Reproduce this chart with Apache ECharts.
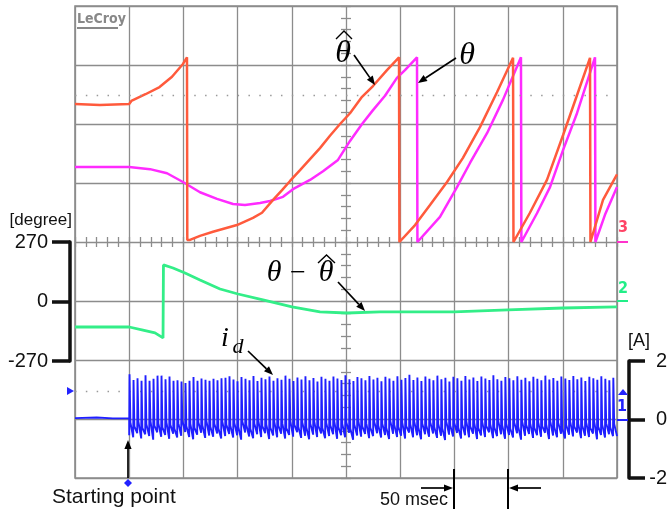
<!DOCTYPE html>
<html><head><meta charset="utf-8">
<script src="https://cdn.jsdelivr.net/npm/echarts@6/dist/echarts.min.js"></script>
<style>html,body{margin:0;padding:0;background:#fff}#c{width:668px;height:516px}</style>
</head><body><div id="c"></div>
<script>
// ---- data (time in msec, angles in degree, current in A) ----
const degreeTicks = [-270, 0, 270];
const ampTicks = [-2, 0, 2];

// estimated rotor angle (theta-hat), channel 3
const thetaHat = [[0,269],[23,267],[50,269],[52,275],[65,288],[78,302],[89.5,322],[99.6,347],[103.3,360],[103.6,4],
 [106.1,4],[115.3,12],[127.3,20],[149.4,33],[164.2,47],[172.5,57],[182.7,82],[191,101],[198.4,119],[207.6,140],[226,183],[235.2,207],[244.5,230],[253.7,251],[264.8,283],[274.9,304],[287.8,335],[298.9,360],[299.3,0],
 [313.7,33],[327.5,72],[343.2,117],[357.9,164],[373.6,224],[389.3,292],[404.1,359],[404.5,0],
 [419.7,57],[435.4,121],[450.2,208],[463.1,286],[475.1,359],[475.5,0],
 [487.1,82],[500,132]];

// real rotor angle (theta), channel 3
const theta = [[0,146],[50,146],[69.2,142],[84.9,134],[99.6,117],[115.3,97],[131,84],[145.8,74],[156.8,72],[170.7,76],[179.9,80],[191.9,88],[201.1,103],[216.8,121],[228.8,138],[242.6,160],[253.7,197],[264.8,230],[274.9,257],[286,285],[297,320],[304.4,335],[315.5,360],[315.9,0],
 [336.7,49],[352.4,107],[364.4,154],[380.1,212],[394.8,277],[411.4,360],[411.8,0],
 [426.2,56],[438.2,107],[450.2,179],[463.1,251],[479.7,360],[480.1,0],
 [488.9,53],[500,107]];

// angle error (theta - theta-hat), channel 2
const thetaErr = [[0,-119],[50,-119],[62.7,-133],[73.8,-146],[81.2,-169],[81.6,165],[90.4,151],[101.5,128],[115.3,96],[133.8,55],[150.4,32],[173.4,5],[200.2,-27],[226,-50],[250.9,-55],[281.4,-50],[349.6,-50],[399.4,-41],[450.2,-32],[500,-27]];

// d-axis current, channel 1: before start, then one pulse per period
const idStart = [[0,0.03],[20,0.05],[35,0.02],[50,0.03]];
const idPeak = [
 1.52,1.32,1.38,1.30,1.48,1.30,1.36,1.47,1.47,1.35,1.44,1.30,1.31,1.27,1.22,1.30,1.42,1.30,1.37,1.33,1.30,1.36,1.31,1.38,1.40,
 1.45,1.34,1.28,1.42,1.36,1.31,1.46,1.29,1.40,1.35,1.44,1.30,1.38,1.33,1.47,1.36,1.29,1.41,1.34,1.45,1.31,1.39,1.27,1.43,1.36,
 1.30,1.44,1.37,1.32,1.48,1.35,1.29,1.42,1.38,1.31,1.46,1.34,1.40,1.28,1.43,1.37,1.30,1.45,1.33,1.39,1.50,1.32,1.41,1.29,1.44,
 1.36,1.31,1.47,1.35,1.40,1.27,1.43,1.38,1.30,1.46,1.34,1.41,1.29,1.44,1.37,1.32,1.48,1.35,1.30,1.42,1.38,1.31,1.45,1.33,1.40,
 1.28,1.43,1.36,1.31,1.47,1.34,1.39,1.30,1.44,1.37,1.32,1.46,1.35,1.41,1.29,1.43,1.38,1.33,1.45,1.36,1.31,1.40];
const idLow = [
 -0.55,-0.62,-0.48,-0.66,-0.52,-0.58,-0.70,-0.45,-0.60,-0.54,-0.67,-0.50,-0.63,-0.57,-0.44,-0.61,-0.69,-0.53,-0.47,-0.64,-0.56,-0.60,-0.49,-0.66,-0.58,
 -0.51,-0.63,-0.55,-0.70,-0.46,-0.59,-0.65,-0.52,-0.61,-0.48,-0.68,-0.56,-0.62,-0.50,-0.66,-0.54,-0.60,-0.45,-0.64,-0.57,-0.69,-0.53,-0.61,-0.49,-0.65,
 -0.58,-0.52,-0.67,-0.55,-0.62,-0.47,-0.70,-0.56,-0.60,-0.51,-0.65,-0.58,-0.48,-0.63,-0.54,-0.68,-0.50,-0.61,-0.57,-0.66,-0.46,-0.62,-0.55,-0.69,-0.52,
 -0.60,-0.49,-0.64,-0.57,-0.71,-0.53,-0.59,-0.47,-0.66,-0.55,-0.62,-0.50,-0.68,-0.56,-0.61,-0.45,-0.65,-0.58,-0.52,-0.67,-0.54,-0.63,-0.48,-0.70,-0.57,
 -0.51,-0.64,-0.55,-0.60,-0.47,-0.68,-0.56,-0.62,-0.50,-0.66,-0.53,-0.59,-0.46,-0.65,-0.57,-0.61,-0.49,-0.69,-0.54,-0.63,-0.52,-0.58];
const idMid = [
 -0.12,-0.25,-0.08,-0.30,-0.18,-0.05,-0.22,-0.15,-0.28,-0.10,-0.20,-0.32,-0.14,-0.07,-0.24,-0.17,-0.29,-0.11,-0.21,-0.06,-0.26,-0.16,-0.31,-0.09,-0.19,
 -0.23,-0.13,-0.27,-0.08,-0.20,-0.33,-0.15,-0.06,-0.24,-0.18,-0.29,-0.10,-0.22,-0.14,-0.31,-0.07,-0.19,-0.26,-0.12,-0.28,-0.16,-0.09,-0.23,-0.30,-0.13,
 -0.21,-0.08,-0.27,-0.17,-0.11,-0.32,-0.19,-0.06,-0.25,-0.14,-0.29,-0.10,-0.22,-0.16,-0.30,-0.07,-0.20,-0.26,-0.12,-0.24,-0.18,-0.09,-0.28,-0.15,-0.21,
 -0.11,-0.27,-0.17,-0.31,-0.08,-0.22,-0.14,-0.29,-0.19,-0.06,-0.25,-0.13,-0.30,-0.10,-0.23,-0.18,-0.28,-0.07,-0.21,-0.16,-0.32,-0.12,-0.26,-0.09,-0.20,
 -0.15,-0.29,-0.11,-0.24,-0.18,-0.07,-0.27,-0.13,-0.31,-0.20,-0.09,-0.25,-0.16,-0.22,-0.12,-0.30,-0.08,-0.26,-0.19,-0.14,-0.28,-0.17];
const idStartTime = 50;               // msec, starting point
const idPeriod = 450 / idPeak.length; // msec per pulse (sample clock)

// ---- build series data ----
const idData = idStart.slice();
idPeak.forEach((p, i) => {
  const t0 = idStartTime + i * idPeriod;
  idData.push([t0, idLow[i]]);
  idData.push([t0 + 0.3, p]);
  idData.push([t0 + 1.1, idMid[i]]);
});
idData.push([500, idLow[idLow.length - 1]]);

const GRID = '#8c8c8c';
const SANS = '"Liberation Sans", Arial, sans-serif';
const SERIF = '"Liberation Serif", "DejaVu Serif", serif';

function txt(x, y, s, font, fill, align, valign) {
  return {type:'text', z:100, style:{x, y, text:s, font, fill:fill || '#000',
    textAlign:align || 'left', textVerticalAlign:valign || 'middle', align:align || 'left', verticalAlign:valign || 'middle'}};
}
function seg(x1, y1, x2, y2, w, c) {
  return {type:'line', z:100, shape:{x1, y1, x2, y2}, style:{stroke:c || '#000', lineWidth:w || 1.6}};
}
function arrow(x1, y1, x2, y2, c) {
  const a = Math.atan2(y2 - y1, x2 - x1), L = 9, W = 3.6;
  const bx = x2 - L * Math.cos(a), by = y2 - L * Math.sin(a);
  const px = -Math.sin(a) * W, py = Math.cos(a) * W;
  return [seg(x1, y1, bx, by, 1.7, c),
    {type:'polygon', z:100, shape:{points:[[x2, y2], [bx + px, by + py], [bx - px, by - py]]}, style:{fill:c || '#000'}}];
}
function hat(x1, x2, yb, yt) {
  return {type:'polyline', z:100, shape:{points:[[x1, yb], [(x1 + x2) / 2, yt], [x2, yb]]}, style:{stroke:'#000', lineWidth:1.4, fill:null}};
}

const graphics = [
  // LeCroy logo
  txt(77, 19, 'LeCroy', 'bold 14px "DejaVu Sans Condensed", "DejaVu Sans"', '#888', 'left', 'middle'),
  seg(77, 28, 118, 28, 2, '#888'),
  // unit names
  txt(72, 220, '[degree]', '17px ' + SANS, '#111', 'right', 'middle'),
  txt(628, 341, '[A]', '18px ' + SANS, '#111', 'left', 'middle'),
  // channel markers
  txt(618, 228, '3', 'bold 16px "DejaVu Sans Condensed", "DejaVu Sans"', '#ff4466', 'left', 'middle'),
  seg(617, 242, 628, 242, 2, '#ff33cc'),
  txt(618, 289, '2', 'bold 16px "DejaVu Sans Condensed", "DejaVu Sans"', '#22ee88', 'left', 'middle'),
  seg(617, 301, 628, 301, 2, '#22ee88'),
  txt(617, 407, '1', 'bold 16px "DejaVu Sans Condensed", "DejaVu Sans"', '#2222ff', 'left', 'middle'),
  {type:'polygon', z:100, shape:{points:[[623, 389], [618, 395], [628, 395]]}, style:{fill:'#2222ff'}},
  seg(617, 420, 628, 420, 2, '#2222ff'),
  {type:'polygon', z:100, shape:{points:[[74, 391], [67, 387], [67, 395]]}, style:{fill:'#2222ff'}},
  {type:'polygon', z:100, shape:{points:[[128, 479], [132, 483], [128, 487], [124, 483]]}, style:{fill:'#2222ff'}},
  // theta-hat label
  txt(343, 54, 'θ', 'italic 32px ' + SERIF, '#000', 'center', 'middle'),
  hat(336, 352, 39, 31),
  ...arrow(354, 55, 375, 85),
  // theta label
  txt(467, 56, 'θ', 'italic 32px ' + SERIF, '#000', 'center', 'middle'),
  ...arrow(456, 58, 418, 83),
  // theta - theta-hat label
  txt(274, 273, 'θ', 'italic 30px ' + SERIF, '#000', 'center', 'middle'),
  txt(298, 274, '−', '28px ' + SERIF, '#000', 'center', 'middle'),
  txt(326, 273, 'θ', 'italic 30px ' + SERIF, '#000', 'center', 'middle'),
  hat(318, 335, 263, 255),
  ...arrow(338, 282, 365, 311),
  // i_d label
  txt(225, 339, 'i', 'italic 28px ' + SERIF, '#000', 'center', 'middle'),
  txt(238, 347, 'd', 'italic 22px ' + SERIF, '#000', 'center', 'middle'),
  ...arrow(248, 351, 273, 375),
  // starting point
  txt(52, 497, 'Starting point', '21px ' + SANS, '#111', 'left', 'middle'),
  ...arrow(128, 478, 128, 440),
  // 50 msec
  txt(380, 500, '50 msec', '18px ' + SANS, '#111', 'left', 'middle'),
  seg(454, 469, 454, 509, 2),
  seg(508, 469, 508, 509, 2),
  ...arrow(421, 488, 453, 488),
  ...arrow(541, 488, 509, 488)
];

const hidden = {show:false};
const option = {
  animation:false,
  backgroundColor:'#fff',
  grid:[
    {left:75, top:6, width:542, height:472, show:true, borderColor:GRID, borderWidth:1.6, backgroundColor:'#fff', containLabel:false, outerBoundsMode:'none'},
    {left:70, top:242, width:1, height:119, containLabel:false, outerBoundsMode:'none'},
    {left:629, top:361, width:1, height:117, containLabel:false, outerBoundsMode:'none'}
  ],
  xAxis:[
    {gridIndex:0, type:'value', min:0, max:500, interval:50, axisLine:hidden, axisTick:hidden, axisLabel:hidden,
     splitLine:{show:true, lineStyle:{color:GRID, width:1.3}}},
    {gridIndex:0, type:'value', min:0, max:500, interval:10, position:'bottom', offset:-236, axisLine:hidden,
     axisTick:{show:true, inside:true, length:5, lineStyle:{color:GRID, width:1.3}}, axisLabel:hidden, splitLine:hidden},
    {gridIndex:0, type:'value', min:0, max:500, interval:10, position:'bottom', offset:-236, axisLine:hidden,
     axisTick:{show:true, inside:false, length:5, lineStyle:{color:GRID, width:1.3}}, axisLabel:hidden, splitLine:hidden},
    {gridIndex:1, type:'value', min:0, max:1, show:false},
    {gridIndex:2, type:'value', min:0, max:1, show:false}
  ],
  yAxis:[
    {gridIndex:0, type:'value', min:-460, max:460, interval:115, axisLine:hidden, axisTick:hidden, axisLabel:hidden,
     splitLine:{show:true, lineStyle:{color:GRID, width:1.3}}},
    {gridIndex:0, type:'value', min:-810, max:1350, show:false},
    {gridIndex:0, type:'value', min:-2, max:14, show:false},
    {gridIndex:0, type:'value', min:-460, max:460, interval:23, position:'left', offset:-271, axisLine:hidden,
     axisTick:{show:true, inside:true, length:5, lineStyle:{color:GRID, width:1.3}}, axisLabel:hidden, splitLine:hidden},
    {gridIndex:0, type:'value', min:-460, max:460, interval:23, position:'left', offset:-271, axisLine:hidden,
     axisTick:{show:true, inside:false, length:5, lineStyle:{color:GRID, width:1.3}}, axisLabel:hidden, splitLine:hidden},
    {gridIndex:1, type:'value', min:degreeTicks[0], max:degreeTicks[2], interval:270, position:'left',
     axisLine:{show:true, lineStyle:{color:'#111', width:3.5}},
     axisTick:{show:true, inside:false, length:18, lineStyle:{color:'#111', width:3.5}},
     axisLabel:{show:true, margin:22, fontSize:20, color:'#111', fontFamily:SANS, formatter:v => String(v)},
     splitLine:hidden},
    {gridIndex:2, type:'value', min:ampTicks[0], max:ampTicks[2], interval:2, position:'right',
     axisLine:{show:true, lineStyle:{color:'#111', width:3.5}},
     axisTick:{show:true, inside:false, length:16, lineStyle:{color:'#111', width:3.5}},
     axisLabel:{show:true, margin:37, align:'right', fontSize:20, color:'#111', fontFamily:SANS, formatter:v => String(v)},
     splitLine:hidden}
  ],
  series:[
    {type:'line', name:'theta', data:theta, xAxisIndex:0, yAxisIndex:0, symbol:'none',
     lineStyle:{color:'#ff2bff', width:2.5}, z:3},
    {type:'line', name:'thetaHat', data:thetaHat, xAxisIndex:0, yAxisIndex:0, symbol:'none',
     lineStyle:{color:'#ff5a3c', width:2.5}, z:4,
     markLine:{silent:true, symbol:'none', label:{show:false}, animation:false,
       lineStyle:{color:'#999', type:[1.5, 9.34], width:1.3}, data:[{yAxis:286}]}},
    {type:'line', name:'thetaErr', data:thetaErr, xAxisIndex:0, yAxisIndex:1, symbol:'none',
     lineStyle:{color:'#33ee88', width:2.8}, z:4},
    {type:'line', name:'id', data:idData, xAxisIndex:0, yAxisIndex:2, symbol:'none',
     lineStyle:{color:'#1f1fff', width:1.9}, z:4,
     markLine:{silent:true, symbol:'none', label:{show:false}, animation:false, z:1,
       lineStyle:{color:'#999', type:[1.5, 9.34], width:1.3}, data:[{yAxis:0.95}]}}
  ],
  graphic:{elements:graphics}
};
const chart = echarts.init(document.getElementById('c'), null, {renderer:'canvas'});
chart.setOption(option);
</script>
</body></html>
